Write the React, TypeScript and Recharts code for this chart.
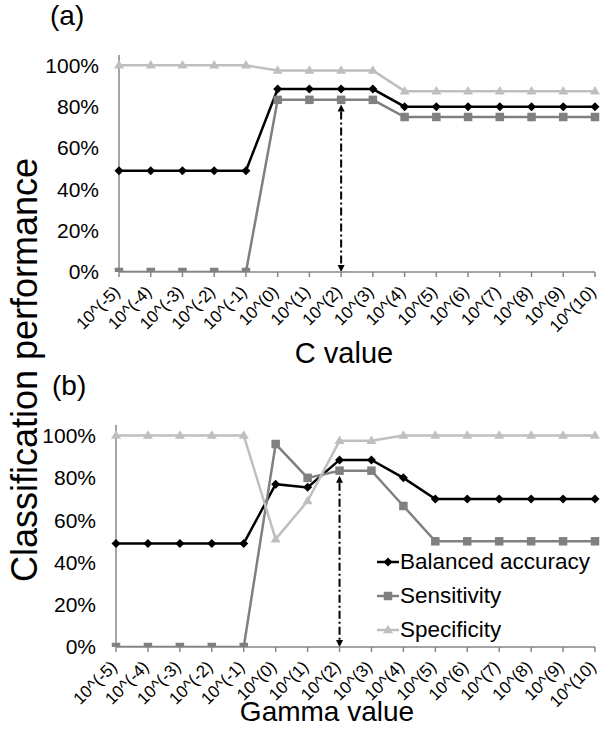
import React from 'react';
import { LineChart, Line, XAxis, YAxis, ReferenceLine, Legend } from 'recharts';

const FONT = '"Liberation Sans", Arial, Helvetica, sans-serif';

const categories = ['10^(-5)', '10^(-4)', '10^(-3)', '10^(-2)', '10^(-1)', '10^(0)', '10^(1)', '10^(2)', '10^(3)', '10^(4)', '10^(5)', '10^(6)', '10^(7)', '10^(8)', '10^(9)', '10^(10)'];

const cBalanced = [0.49, 0.49, 0.49, 0.49, 0.49, 0.885, 0.885, 0.885, 0.885, 0.8, 0.8, 0.8, 0.8, 0.8, 0.8, 0.8];
const cSensitivity = [0, 0, 0, 0, 0, 0.833, 0.833, 0.833, 0.833, 0.75, 0.75, 0.75, 0.75, 0.75, 0.75, 0.75];
const cSpecificity = [1, 1, 1, 1, 1, 0.975, 0.975, 0.975, 0.975, 0.875, 0.875, 0.875, 0.875, 0.875, 0.875, 0.875];

const gBalanced = [0.49, 0.49, 0.49, 0.49, 0.49, 0.77, 0.755, 0.885, 0.885, 0.8, 0.7, 0.7, 0.7, 0.7, 0.7, 0.7];
const gSensitivity = [0, 0, 0, 0, 0, 0.96, 0.8, 0.834, 0.834, 0.667, 0.5, 0.5, 0.5, 0.5, 0.5, 0.5];
const gSpecificity = [1, 1, 1, 1, 1, 0.51, 0.69, 0.975, 0.975, 1, 1, 1, 1, 1, 1, 1];

const yTicks = [0, 0.2, 0.4, 0.6, 0.8, 1];
const seriesNames = ['Balanced accuracy', 'Sensitivity', 'Specificity'];
const bestCategory = '10^(2)';
const arrowTop = 0.81;

const dataC = categories.map((cat, i) => ({ cat, bal: cBalanced[i], sens: cSensitivity[i], spec: cSpecificity[i] }));
const dataG = categories.map((cat, i) => ({ cat, bal: gBalanced[i], sens: gSensitivity[i], spec: gSpecificity[i] }));

const BLACK = '#000000';
const GRAY = '#808080';
const LIGHT = '#bfbfbf';
const AXIS = '#868686';

const Diamond = (props: any) => {
  const { cx, cy } = props;
  if (cx == null || cy == null) return <g />;
  const r = 4.5;
  return <polygon points={`${cx},${cy - r} ${cx + r},${cy} ${cx},${cy + r} ${cx - r},${cy}`} fill={BLACK} />;
};
const Square = (props: any) => {
  const { cx, cy } = props;
  if (cx == null || cy == null) return <g />;
  const s = 8.5;
  return <rect x={cx - s / 2} y={cy - s / 2} width={s} height={s} fill={GRAY} />;
};
const Triangle = (props: any) => {
  const { cx, cy } = props;
  if (cx == null || cy == null) return <g />;
  const w = 10, h = 8.5;
  return <polygon points={`${cx},${cy - h / 2 - 1} ${cx + w / 2},${cy + h / 2 - 1} ${cx - w / 2},${cy + h / 2 - 1}`} fill={LIGHT} />;
};

const XTick = (props: any) => {
  const { x, y, payload } = props;
  return (
    <g transform={`translate(${x - 2},${y + 10})`}>
      <text textAnchor="end" transform="rotate(-45)" fontSize={17} fill="#000" fontFamily={FONT} dominantBaseline="central">
        {payload.value}
      </text>
    </g>
  );
};

const ArrowShape = (props: any) => {
  const { x1, y1, x2, y2 } = props;
  if (x1 == null) return <g />;
  const top = Math.min(y1, y2);
  const bot = Math.max(y1, y2);
  const x = x1;
  const ah = 7, aw = 3.5;
  return (
    <g>
      <line x1={x} y1={top + ah} x2={x} y2={bot - ah} stroke="#000" strokeWidth={2} strokeDasharray="8 3 2 3" />
      <polygon points={`${x},${top} ${x + aw},${top + ah} ${x - aw},${top + ah}`} fill="#000" />
      <polygon points={`${x},${bot} ${x + aw},${bot - ah} ${x - aw},${bot - ah}`} fill="#000" />
    </g>
  );
};

const LegendIcon = ({ idx }: { idx: number }) => {
  const color = [BLACK, GRAY, LIGHT][idx];
  return (
    <svg width={22} height={14} style={{ display: 'block' }}>
      <line x1={0} y1={7} x2={22} y2={7} stroke={color} strokeWidth={2.5} />
      {idx === 0 && <Diamond cx={11} cy={7} />}
      {idx === 1 && <Square cx={11} cy={7} />}
      {idx === 2 && <Triangle cx={11} cy={7} />}
    </svg>
  );
};

const LegendContent = () => (
  <div style={{ fontFamily: FONT }}>
    {seriesNames.map((n, i) => (
      <div key={n} style={{ display: 'flex', alignItems: 'center', height: 34 }}>
        <LegendIcon idx={i} />
        <span style={{ fontSize: 22.5, color: '#000', marginLeft: 1, lineHeight: '34px', whiteSpace: 'nowrap' }}>{n}</span>
      </div>
    ))}
  </div>
);

const Panel = ({ data, top, marginTop, yWidth, marginBottom, showLegend }: any) => (
  <div style={{ position: 'absolute', left: 0, top, width: 600, height: 367 }}>
    <LineChart width={600} height={367} data={data} margin={{ top: marginTop, right: 5, bottom: marginBottom, left: 0 }}>
      <XAxis
        dataKey="cat"
        interval={0}
        height={80}
        tick={<XTick />}
        tickSize={5}
        tickLine={{ stroke: AXIS, strokeWidth: 1.5 }}
        axisLine={{ stroke: AXIS, strokeWidth: 1.5 }}
      />
      <YAxis
        width={yWidth}
        domain={[0, 1.05]}
        ticks={yTicks}
        type="number"
        allowDataOverflow
        tickFormatter={(v: number) => `${Math.round(v * 100)}%`}
        tick={{ fontSize: 21, fill: '#000', fontFamily: FONT }}
        tickLine={false}
        tickSize={5}
        tickMargin={15}
        axisLine={{ stroke: AXIS, strokeWidth: 1.5 }}
      />
      <ReferenceLine
        segment={[{ x: bestCategory, y: 0 }, { x: bestCategory, y: arrowTop }]}
        shape={(p: any) => <ArrowShape {...p} />}
      />
      <Line dataKey="bal" name={seriesNames[0]} stroke={BLACK} strokeWidth={2.5} dot={(p: any) => <Diamond key={`d${p.index}`} {...p} />} isAnimationActive={false} />
      <Line dataKey="sens" name={seriesNames[1]} stroke={GRAY} strokeWidth={2.5} dot={(p: any) => <Square key={`s${p.index}`} {...p} />} isAnimationActive={false} />
      <Line dataKey="spec" name={seriesNames[2]} stroke={LIGHT} strokeWidth={2.5} dot={(p: any) => <Triangle key={`t${p.index}`} {...p} />} isAnimationActive={false} />
      {showLegend && (
        <Legend
          layout="vertical"
          align="center"
          verticalAlign="middle"
          content={<LegendContent />}
          wrapperStyle={{ position: 'absolute', left: 377, top: 178, width: 222, height: 102 }}
        />
      )}
    </LineChart>
  </div>
);

const textStyle: React.CSSProperties = { position: 'absolute', fontFamily: FONT, color: '#000', whiteSpace: 'nowrap', lineHeight: 1 };

export default function App() {
  return (
    <div style={{ position: 'absolute', left: 0, top: 0, width: 600, height: 734, background: '#fff', overflow: 'hidden' }}>
      <Panel data={dataC} top={0} marginTop={55} yWidth={119} marginBottom={15} showLegend={false} />
      <Panel data={dataG} top={367} marginTop={58} yWidth={116} marginBottom={7} showLegend={true} />
      <div style={{ ...textStyle, left: 50, top: 2, fontSize: 28 }}>(a)</div>
      <div style={{ ...textStyle, left: 52, top: 372, fontSize: 28 }}>(b)</div>
      <div style={{ ...textStyle, left: 344, top: 353, fontSize: 29, transform: 'translate(-50%,-50%)' }}>C value</div>
      <div style={{ ...textStyle, left: 327, top: 712, fontSize: 28, transform: 'translate(-50%,-50%)' }}>Gamma value</div>
      <div style={{ ...textStyle, left: 25, top: 370, fontSize: 36, transform: 'translate(-50%,-50%) rotate(-90deg)' }}>Classification performance</div>
    </div>
  );
}
